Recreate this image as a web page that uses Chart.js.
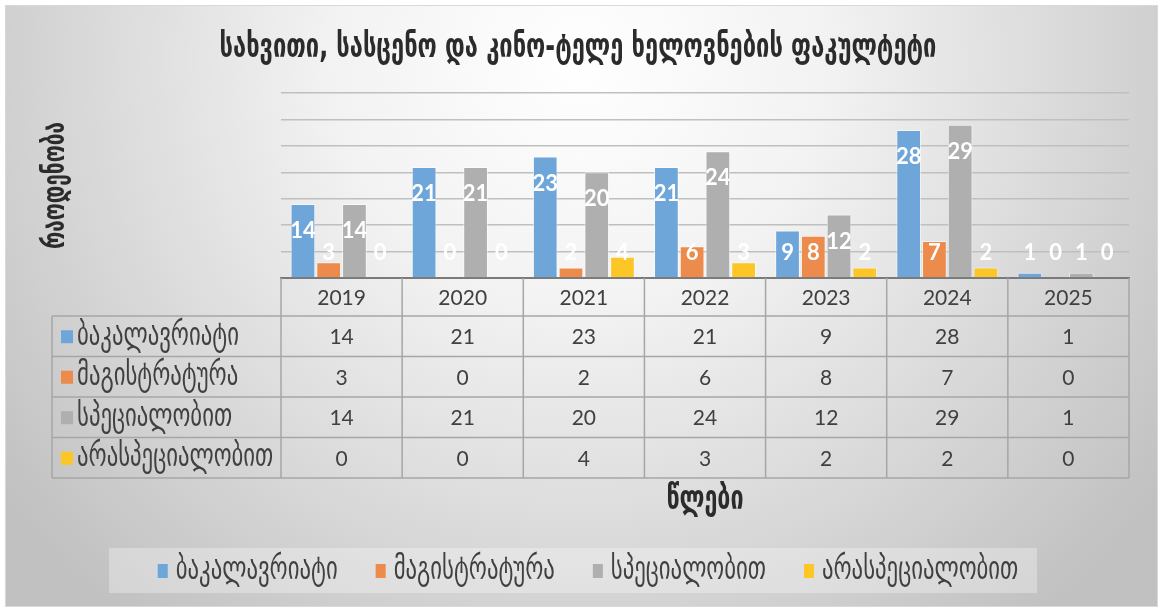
<!DOCTYPE html>
<html>
<head>
<meta charset="utf-8">
<script src="https://cdn.jsdelivr.net/npm/chart.js@4/dist/chart.umd.min.js"></script>
<style>
    body { margin: 0; background: #fff; }
    canvas { display: block; }
</style>
</head>
<body>
<canvas id="facultyChart" width="1158" height="607"></canvas>
<script>
// data
const years = ['2019', '2020', '2021', '2022', '2023', '2024', '2025'];
const seriesNames = ['ბაკალავრიატი', 'მაგისტრატურა', 'სპეციალობით', 'არასპეციალობით'];
const bachelor = [14, 21, 23, 21, 9, 28, 1];
const master = [3, 0, 2, 6, 8, 7, 0];
const specialty = [14, 21, 20, 24, 12, 29, 1];
const nonSpecialty = [0, 0, 4, 3, 2, 2, 0];
const yMax = 35;
const yStep = 5;

const chartTitle = 'სახვითი, სასცენო და კინო-ტელე ხელოვნების ფაკულტეტი';
const yTitle = 'რაოდენობა';
const xTitle = 'წლები';

const seriesColors = ['#6FA6DA', '#EC8B4B', '#AFAFAF', '#FCC626'];
const geoFont = "'DejaVu Sans Condensed', 'DejaVu Sans', sans-serif";
const numFont = "Lato, 'Open Sans', sans-serif";

// the georgian face in the picture is taller and narrower than DejaVu,
// so the text is drawn larger and squeezed sideways
const squeeze = 0.78;
const measureCtx = document.createElement('canvas').getContext('2d');
function fitFontSize(text, width, weight) {
    measureCtx.font = `${weight} 100px ${geoFont}`;
    return 100 * (width / squeeze) / measureCtx.measureText(text).width;
}
function drawGeo(ctx, text, x, y, size, weight, align, angle) {
    ctx.save();
    ctx.translate(x, y);
    if (angle) ctx.rotate(angle);
    ctx.scale(squeeze, 1);
    ctx.font = `${weight} ${size}px ${geoFont}`;
    ctx.textAlign = align;
    ctx.textBaseline = 'middle';
    ctx.fillText(text, 0, 0);
    ctx.restore();
}
function geoWidth(ctx, text, size, weight) {
    ctx.font = `${weight} ${size}px ${geoFont}`;
    return ctx.measureText(text).width * squeeze;
}
const titleSize = fitFontSize(chartTitle, 717, 'bold');
const yTitleSize = fitFontSize(yTitle, 127, 'bold');
const xTitleSize = fitFontSize(xTitle, 77, 'bold');
const labelSize = fitFontSize(seriesNames[0], 162, 'normal');

const backgroundPlugin = {
    id: 'background',
    beforeDraw(chart) {
        const ctx = chart.ctx;
        ctx.save();
        ctx.fillStyle = '#fff';
        ctx.fillRect(0, 0, chart.width, chart.height);
        const grad = ctx.createRadialGradient(580, 60, 0, 580, 60, 720);
        grad.addColorStop(0, '#ffffff');
        grad.addColorStop(0.35, '#f2f2f2');
        grad.addColorStop(1, '#c1c1c1');
        ctx.fillStyle = grad;
        ctx.fillRect(5, 5, chart.width - 5, chart.height - 5);
        ctx.strokeStyle = '#d9d9d9';
        ctx.lineWidth = 1;
        ctx.strokeRect(5.5, 5.5, chart.width - 6, chart.height - 6);
        ctx.restore();
    }
};

const barLabelPlugin = {
    id: 'barLabels',
    afterDatasetsDraw(chart) {
        const ctx = chart.ctx;
        const area = chart.chartArea;
        ctx.save();
        ctx.font = `bold 22px ${numFont}`;
        ctx.fillStyle = '#fff';
        ctx.textAlign = 'center';
        ctx.textBaseline = 'middle';
        chart.data.datasets.forEach((ds, i) => {
            chart.getDatasetMeta(i).data.forEach((bar, j) => {
                const y = Math.min(bar.y + 27, area.bottom - 25);
                ctx.fillText(String(ds.data[j]), bar.x, y);
            });
        });
        ctx.restore();
    }
};

const tablePlugin = {
    id: 'dataTable',
    afterDraw(chart) {
        const ctx = chart.ctx;
        const xs = chart.scales.x;
        const area = chart.chartArea;
        const cw = (xs.right - xs.left) / years.length;
        const top = area.bottom;
        const headerBottom = top + 38;
        const rowH = 40.5;
        const tableLeft = 52;
        const tableBottom = headerBottom + rowH * seriesNames.length;

        ctx.save();
        ctx.strokeStyle = '#a6a6a6';
        ctx.lineWidth = 1.5;
        ctx.beginPath();
        for (let r = 0; r <= seriesNames.length; r++) {
            const y = headerBottom + r * rowH;
            ctx.moveTo(tableLeft, y);
            ctx.lineTo(xs.right, y);
        }
        ctx.moveTo(tableLeft, headerBottom);
        ctx.lineTo(tableLeft, tableBottom);
        for (let k = 0; k <= years.length; k++) {
            const x = xs.left + k * cw;
            ctx.moveTo(x, top);
            ctx.lineTo(x, tableBottom);
        }
        ctx.stroke();

        ctx.textBaseline = 'middle';
        ctx.fillStyle = '#404040';
        ctx.textAlign = 'center';
        ctx.font = `21px ${numFont}`;
        years.forEach((yr, j) => {
            ctx.fillText(yr, xs.getPixelForValue(j), (top + headerBottom) / 2 + 1);
        });
        chart.data.datasets.forEach((ds, i) => {
            const cy = headerBottom + rowH * i + rowH / 2;
            ctx.fillStyle = '#404040';
            ctx.font = `21px ${numFont}`;
            ds.data.forEach((v, j) => {
                ctx.fillText(String(v), xs.getPixelForValue(j), cy + 1);
            });
            ctx.fillStyle = ds.backgroundColor;
            ctx.fillRect(61, cy - 6, 12, 13);
            ctx.fillStyle = '#404040';
            drawGeo(ctx, ds.label, 77, cy, labelSize, 'normal', 'left');
        });

        // titles
        ctx.fillStyle = '#2b2b2b';
        drawGeo(ctx, chartTitle, 578, 48, titleSize, 'bold', 'center');
        drawGeo(ctx, xTitle, (xs.left + xs.right) / 2, 500, xTitleSize, 'bold', 'center');
        drawGeo(ctx, yTitle, 56, (area.top + area.bottom) / 2, yTitleSize, 'bold', 'center', -Math.PI / 2);

        // legend
        ctx.fillStyle = 'rgba(255,255,255,0.3)';
        ctx.fillRect(109, 548, 928, 45);
        const widths = chart.data.datasets.map(ds => 18 + geoWidth(ctx, ds.label, labelSize, 'normal'));
        const total = widths.reduce((a, b) => a + b, 0) + 38 * (widths.length - 1);
        let x = 588 - total / 2;
        const ly = 571;
        chart.data.datasets.forEach((ds, i) => {
            ctx.fillStyle = ds.backgroundColor;
            ctx.fillRect(x, ly - 7, 10, 14);
            ctx.fillStyle = '#404040';
            drawGeo(ctx, ds.label, x + 18, ly, labelSize, 'normal', 'left');
            x += widths[i] + 38;
        });
        ctx.restore();
    }
};

const seriesData = [bachelor, master, specialty, nonSpecialty];

new Chart(document.getElementById('facultyChart'), {
    type: 'bar',
    data: {
        labels: years,
        datasets: seriesNames.map((name, i) => ({
            label: name,
            data: seriesData[i],
            backgroundColor: seriesColors[i],
            borderColor: 'rgba(255,255,255,0.55)',
            borderWidth: 1,
            categoryPercentage: 0.85,
            barPercentage: 0.96
        }))
    },
    options: {
        responsive: false,
        animation: false,
        layout: {
            padding: { left: 0, right: 29, top: 93, bottom: 0 }
        },
        plugins: {
            legend: { display: false },
            tooltip: { enabled: false },
            title: { display: false }
        },
        scales: {
            x: {
                grid: { display: false },
                ticks: { display: false },
                border: { color: '#7a7a7a', width: 2 },
                afterFit: function (scale) {
                    scale.height = 607 - 278;
                }
            },
            y: {
                min: 0,
                max: yMax,
                ticks: { display: false, stepSize: yStep },
                grid: { color: '#bfbfbf', lineWidth: 1.5, drawTicks: false },
                border: { display: false },
                afterFit: function (scale) {
                    scale.width = 281;
                }
            }
        }
    },
    plugins: [backgroundPlugin, barLabelPlugin, tablePlugin]
});
</script>
</body>
</html>
